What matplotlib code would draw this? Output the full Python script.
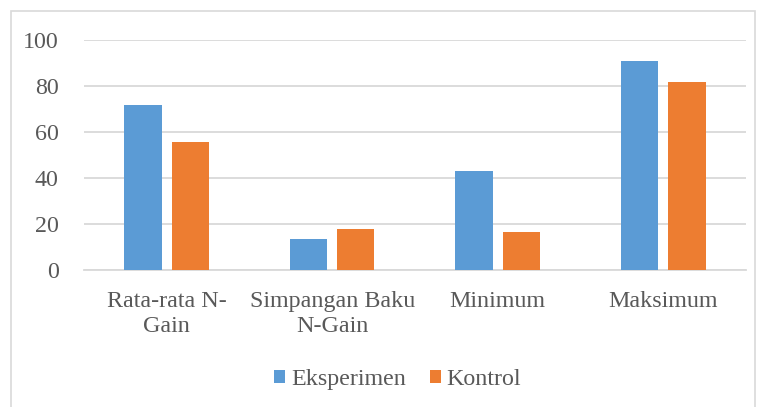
import numpy as np
import matplotlib.pyplot as plt
from matplotlib.patches import Rectangle

categories = ["Rata-rata N-\nGain", "Simpangan Baku\nN-Gain", "Minimum", "Maksimum"]
eksperimen = [71.7, 13.3, 42.9, 90.9]
kontrol = [55.4, 17.8, 16.5, 81.6]
yticks = [0, 20, 40, 60, 80, 100]

plt.rcParams['font.family'] = ['Liberation Serif', 'DejaVu Serif']
txt = '#595959'
fs = 17.3

fig = plt.figure(figsize=(7.62, 4.07), dpi=100)
ax = fig.add_axes([0.110, 0.337, 0.869, 0.565])

x = np.arange(len(categories))
w = 0.225
ax.bar(x - 0.143, eksperimen, w, color='#5B9BD5', label='Eksperimen', zorder=3)
ax.bar(x + 0.143, kontrol, w, color='#ED7D31', label='Kontrol', zorder=3)

ax.set_xlim(-0.5, 3.5)
ax.set_ylim(0, 100)
ax.set_yticks(yticks)
ax.set_xticks(x)
ax.set_xticklabels(categories, fontsize=fs, color=txt, linespacing=1.3)
ax.tick_params(axis='y', labelsize=fs, labelcolor=txt, length=0, pad=18)
ax.tick_params(axis='x', length=0, pad=15)
ax.grid(axis='y', color='#d9d9d9', linewidth=1.3, zorder=0)
for s in ['top', 'right', 'left']:
    ax.spines[s].set_visible(False)
ax.spines['bottom'].set_color('#d9d9d9')
ax.spines['bottom'].set_linewidth(1.3)

fig.legend(loc='center', bbox_to_anchor=(0.522, 0.067), ncol=2, frameon=False,
           fontsize=fs, labelcolor=txt, handlelength=0.45, handleheight=0.45,
           handletextpad=0.25, columnspacing=1.0)

fig.patches.append(Rectangle((11 / 762, -0.05), 744 / 762, 1.05 - 11 / 407,
                             transform=fig.transFigure, fill=False,
                             edgecolor='#d9d9d9', linewidth=1.2))

fig.savefig('out.png', dpi=100)
